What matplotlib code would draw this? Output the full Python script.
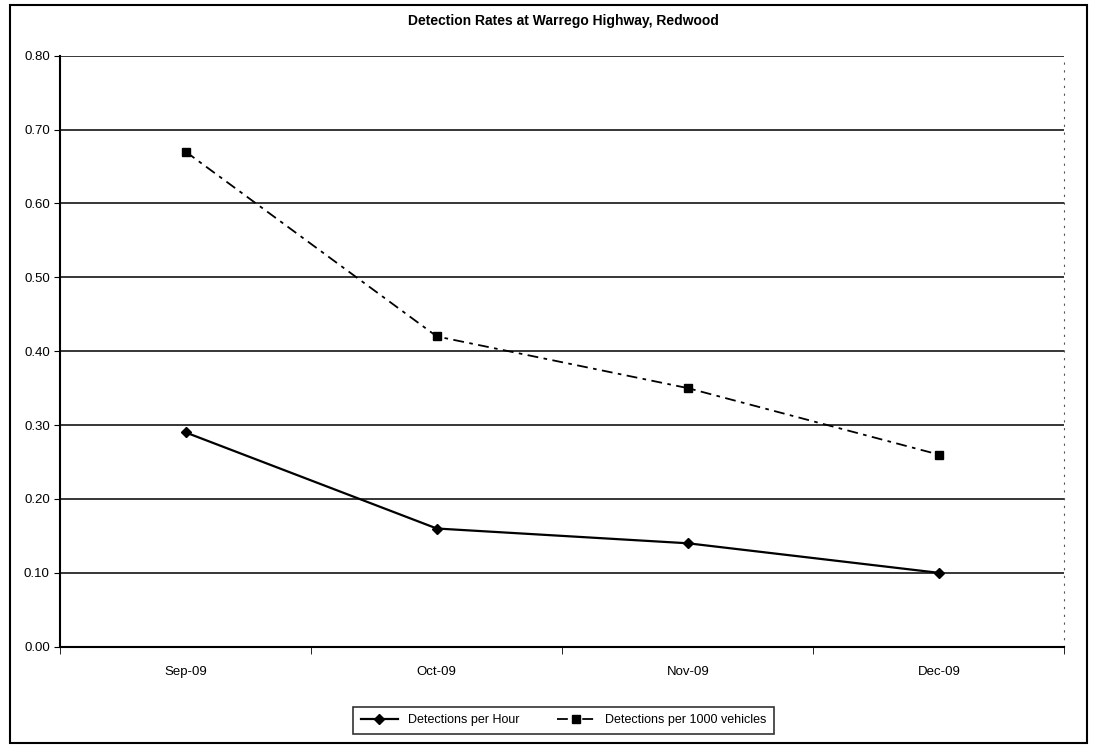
import matplotlib.pyplot as plt
import numpy as np
from matplotlib.patches import Rectangle

plt.rcParams['font.family'] = ['Liberation Sans', 'DejaVu Sans']

# Data
months = ['Sep-09', 'Oct-09', 'Nov-09', 'Dec-09']
per_hour = [0.29, 0.16, 0.14, 0.10]
per_1000_vehicles = [0.67, 0.42, 0.35, 0.26]
y_ticks = [0.0, 0.1, 0.2, 0.3, 0.4, 0.5, 0.6, 0.7, 0.8]

fig = plt.figure(figsize=(10.94, 7.52), dpi=100)
ax = fig.add_axes([0.055, 0.140, 0.918, 0.786])

# outer chart frame
fig.patches.append(Rectangle((0.009, 0.012), 0.985, 0.981, transform=fig.transFigure,
                             fill=False, edgecolor='black', linewidth=1.5))

x = np.arange(len(months))
ax.plot(x, per_hour, color='black', linewidth=1.6, marker='D', markersize=5,
        label='Detections per Hour')
ax.plot(x, per_1000_vehicles, color='black', linewidth=1.3, linestyle=(0, (6, 3, 2, 3)),
        marker='s', markersize=6, label='Detections per 1000 vehicles')

ax.set_xlim(-0.5, len(months) - 0.5)
ax.set_ylim(0, 0.8)
ax.set_yticks(y_ticks)
ax.set_yticklabels([f'{v:.2f}' for v in y_ticks], fontsize=9.5)
ax.set_xticks(x)
ax.set_xticklabels(months, fontsize=9.5)
ax.tick_params(axis='x', length=0, pad=14)
ax.set_xticks(np.arange(-0.5, len(months), 1.0), minor=True)
ax.tick_params(axis='x', which='minor', length=5, direction='out')
ax.tick_params(axis='y', length=4, direction='out')

ax.grid(axis='y', color='black', linewidth=1.1)
ax.set_axisbelow(True)
ax.spines['top'].set_visible(False)
ax.spines['right'].set_linestyle((0, (1, 6)))
ax.spines['right'].set_color('#555555')
ax.spines['left'].set_linewidth(1.5)
ax.spines['bottom'].set_linewidth(1.5)

fig.text(0.515, 0.972, 'Detection Rates at Warrego Highway, Redwood',
         ha='center', va='center', fontsize=10, fontweight='bold')

leg = fig.legend(loc='center', bbox_to_anchor=(0.515, 0.042), ncol=2, fontsize=9,
                 frameon=True, fancybox=False, edgecolor='black', handlelength=3,
                 columnspacing=3, borderpad=0.6)
leg.get_frame().set_linewidth(1.2)

fig.savefig('out.png', dpi=100)
